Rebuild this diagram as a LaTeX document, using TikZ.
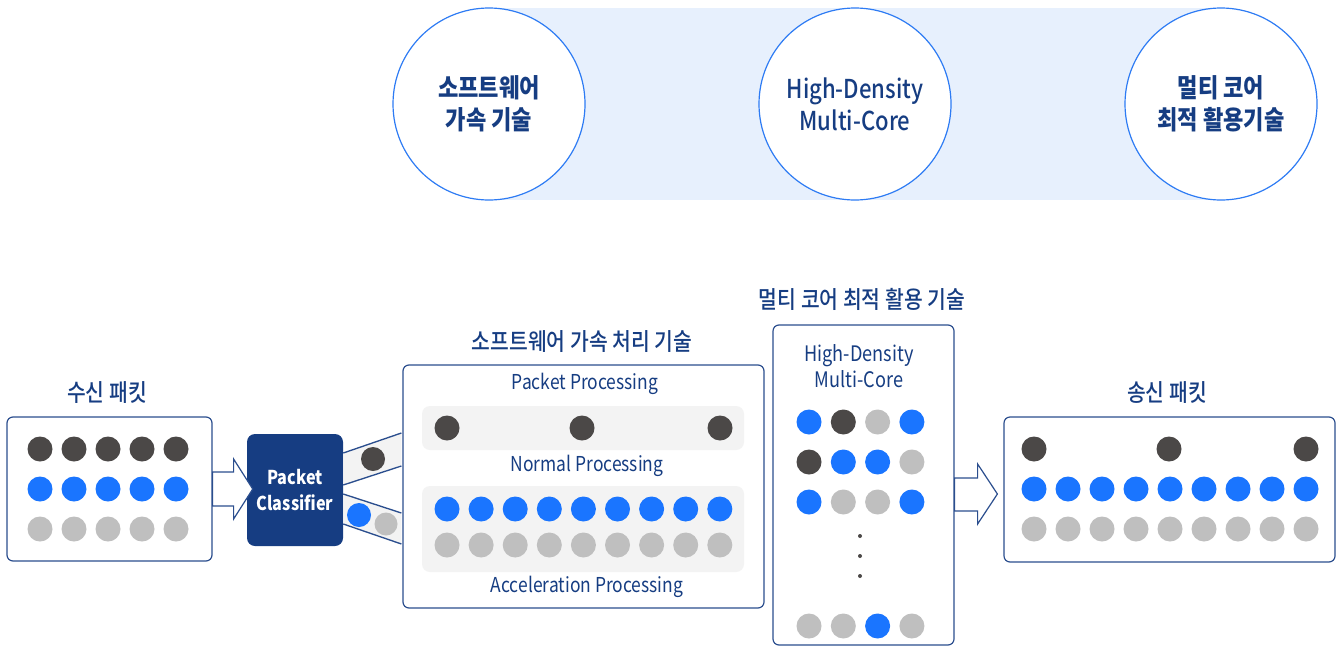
\documentclass[tikz,border=0pt]{standalone}
\usepackage{fontspec}
\setmainfont{Noto Sans CJK KR}[FakeStretch=0.85]
\newfontfamily\krmed{Noto Sans CJK KR Medium}[FakeStretch=0.85]
\usetikzlibrary{calc}
\definecolor{navy}{HTML}{163D82}
\definecolor{boxline}{HTML}{2B4E8E}
\definecolor{ringblue}{HTML}{2D7BF4}
\definecolor{bgblue}{HTML}{E7F0FD}
\definecolor{dotdark}{HTML}{4B4847}
\definecolor{dotblue}{HTML}{1A75FF}
\definecolor{dotgray}{HTML}{BFBFBF}
\definecolor{bandgray}{HTML}{F3F3F3}

\begin{document}
\begin{tikzpicture}[x=0.75pt,y=-0.75pt,
  ring/.style={circle,draw=ringblue,fill=white,line width=0.9pt,minimum size=144pt,
    align=center,text=navy,font=\bfseries\fontsize{19.5}{24}\selectfont},
  pbox/.style={draw=boxline,line width=0.9pt,rounded corners=4.5pt,fill=white},
  band/.style={fill=bandgray,rounded corners=6pt},
  title/.style={text=navy,font=\krmed\fontsize{18}{22}\selectfont},
  label/.style={text=navy,font=\fontsize{15.4}{19}\selectfont,align=center},
  blockarrow/.style={draw=boxline,line width=0.9pt,fill=white},
  chan/.style={draw=boxline,line width=1pt}]
\useasboundingbox (0,0) rectangle (1341,646);

% top: three technologies
\fill[bgblue] (489,8) rectangle (1221,200);
\node[ring] (sw) at (489,104) {소프트웨어\\가속 기술};
\node[ring,font=\krmed\fontsize{19.5}{24}\selectfont] (hd) at (855,104) {High-Density\\Multi-Core};
\node[ring] (mt) at (1221,104) {멀티 코어\\최적 활용기술};

% received packets
\node[pbox,minimum width=153.75pt,minimum height=108pt] (recv) at (109.5,489) {};
\node[title] (recvlbl) at (107,393) {수신 패킷};
\foreach \i in {0,...,4} {
  \fill[dotdark] (40+34*\i,449) circle (12.5);
  \fill[dotblue] (40+34*\i,489) circle (12.5);
  \fill[dotgray] (40+34*\i,529) circle (12.5);
}

% classifier
\node[fill=navy,rounded corners=6pt,minimum width=72pt,minimum height=84pt,
  text=white,align=center,font=\bfseries\fontsize{14.3}{19}\selectfont] (cls) at (295,490) {Packet\\Classifier};
\filldraw[blockarrow] ($(recv.east)+(0,-17)$) -- ++(21,0) -- ++(0,-13) -- ($(cls.west)+(6,-1)$)
  -- ($(recv.east)+(21,30)$) -- ++(0,-13) -- ($(recv.east)+(0,17)$) -- cycle;

% software acceleration box
\node[pbox,minimum width=270.75pt,minimum height=182.25pt] (proc) at (583.5,486.5) {};
\node[title] (proclbl) at (582,342) {소프트웨어 가속 처리 기술};
\node[label] (pp) at (585,384) {Packet Processing};
\node[band,minimum width=241.5pt,minimum height=33pt] (norm) at (583,428) {};
\node[label] (np) at (587,466) {Normal Processing};
\node[band,minimum width=241.5pt,minimum height=64.5pt] (accel) at (583,529) {};
\node[label] (ap) at (587,587) {Acceleration Processing};
\foreach \x in {447,582,720}
  \fill[dotdark] (\x,428) circle (12.5);
\foreach \i in {0,...,8} {
  \fill[dotblue] (447+34.1*\i,509) circle (12.5);
  \fill[dotgray] (447+34.1*\i,545) circle (12.5);
}

% channels from classifier
\fill[bandgray] ($(cls.east)+(0,-37)$) -- ($(proc.west)+(-1,-53.5)$) -- ($(proc.west)+(-1,-20.5)$) -- ($(cls.east)+(0,-5)$) -- cycle;
\fill[bandgray] ($(cls.east)+(0,4)$) -- ($(proc.west)+(-1,26.5)$) -- ($(proc.west)+(-1,57.5)$) -- ($(cls.east)+(0,34)$) -- cycle;
\draw[chan] ($(cls.east)+(0,-37)$) -- ($(proc.west)+(-1,-53.5)$);
\draw[chan] ($(cls.east)+(0,-5)$) -- ($(proc.west)+(-1,-20.5)$);
\draw[chan] ($(cls.east)+(0,4)$) -- ($(proc.west)+(-1,26.5)$);
\draw[chan] ($(cls.east)+(0,34)$) -- ($(proc.west)+(-1,57.5)$);
\fill[dotdark] (373,459) circle (12);
\fill[dotblue] (359,515) circle (12);
\fill[dotgray] (386,524) circle (11.5);

% multi-core box
\node[pbox,minimum width=135.75pt,minimum height=240pt] (mc) at (863.5,485) {};
\node[title] (mclbl) at (862,299) {멀티 코어 최적 활용 기술};
\node[label,font=\fontsize{16}{19}\selectfont] (hdlbl) at (859,366) {High-Density\\Multi-Core};
\foreach \c [count=\i from 0] in {dotblue,dotdark,dotgray,dotblue}
  \fill[\c] (809+34.3*\i,422) circle (12.5);
\foreach \c [count=\i from 0] in {dotdark,dotblue,dotblue,dotgray}
  \fill[\c] (809+34.3*\i,462) circle (12.5);
\foreach \c [count=\i from 0] in {dotblue,dotgray,dotgray,dotblue}
  \fill[\c] (809+34.3*\i,502) circle (12.5);
\foreach \c [count=\i from 0] in {dotgray,dotgray,dotblue,dotgray}
  \fill[\c] (809+34.3*\i,626) circle (12.5);
\foreach \y in {536,556,576}
  \fill[dotdark] (860,\y) circle (2);

% sent packets
\node[pbox,minimum width=248.25pt,minimum height=108.75pt] (out) at (1169.5,489.5) {};
\node[title] (outlbl) at (1167,393) {송신 패킷};
\filldraw[blockarrow] ($(mc.east)+(0,-7)$) -- ++(23,0) -- ++(0,-14) -- ($(out.west)+(-6,4.5)$)
  -- ($(mc.east)+(23,39)$) -- ++(0,-13) -- ($(mc.east)+(0,26)$) -- cycle;
\foreach \x in {1034,1169,1306}
  \fill[dotdark] (\x,449) circle (12.5);
\foreach \i in {0,...,8} {
  \fill[dotblue] (1034+34*\i,489) circle (12.5);
  \fill[dotgray] (1034+34*\i,529) circle (12.5);
}
\end{tikzpicture}
\end{document}
